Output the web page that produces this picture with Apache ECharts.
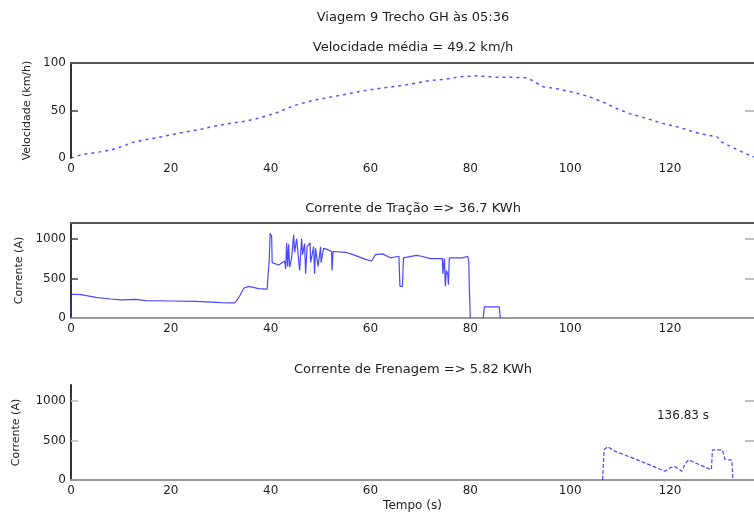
<!DOCTYPE html>
<html>
<head>
<meta charset="utf-8">
<script src="https://cdn.jsdelivr.net/npm/echarts@6/dist/echarts.min.js"></script>
<style>
html, body { margin: 0; padding: 0; background: #fff; }
#chart { width: 754px; height: 515px; }
</style>
</head>
<body>
<div id="chart"></div>
<script>
// dados
var tempoTotal = 136.83;
var xTicks = [0, 20, 40, 60, 80, 100, 120];
var ticksVel = [50];
var ticksCorrente = [500, 1000];

// velocidade (km/h)
var tempoVel = [0, 2.4, 4.1, 8.1, 11, 12, 15.7, 18.3, 22, 26.3, 28.2, 32.6, 35.2, 37.6, 40.9, 43.2, 45.5, 48.8, 54, 56.8, 59, 62, 64.4,
    67, 72, 75, 78, 81.3, 85.3, 87.9, 91.3, 92.6, 94.6, 97.8, 101.5, 103.8, 107.2, 109.1, 111.7, 115.1, 118.4, 121.7, 125, 127.6,
    129.4, 130.4, 133, 135, 136.83];
var velocidade = [0, 4, 5, 8.5, 13.5, 16, 20, 22.5, 26.5, 30.5, 33, 37, 39, 42, 47, 52, 56.5, 61, 66, 69, 71, 73.5, 75,
    77, 81.5, 83, 85.5, 86.5, 85, 85, 84.5, 81, 75, 72.5, 68, 64.5, 57.5, 52.5, 47, 42, 36.5, 32.5, 27, 24,
    22.5, 16.5, 10, 5, 1];

// corrente de tração (A)
var tempoTracao = [0, 0.1, 2, 5, 8, 10, 13, 15, 20, 25, 30, 32.8, 33.3, 33.9, 34.6, 35.6, 37.6, 39.3, 39.5, 39.7, 39.9, 40.2, 40.3,
    40.6, 41.6, 42.8, 43, 43.2, 43.4, 43.6, 43.8, 44.2, 44.6, 44.8, 45.2, 45.6, 45.8, 46.2, 46.4, 46.8, 47, 47.3, 47.9, 48,
    48.6, 48.8, 49, 49.4, 49.5, 50, 50.1, 50.6, 51.6, 52.2, 52.3, 52.5, 55, 56.5, 59, 60.2, 61, 62.4, 64, 65.7, 65.9, 66.4,
    66.6, 69.2, 70.2, 72, 74.4, 74.5, 74.8, 75, 75.2, 75.5, 75.6, 75.8, 78.4, 79.5, 79.7, 79.8, 80, 81, 82.6, 82.8, 85.8, 86];
var correnteTracao = [0, 300, 295, 260, 240, 230, 235, 220, 215, 210, 195, 190, 230, 290, 375, 400, 370, 365, 560, 710, 1070, 1030, 700,
    690, 670, 720, 620, 950, 650, 930, 640, 760, 1050, 830, 1000, 980, 600, 1000, 800, 940, 560, 900, 950, 700,
    900, 560, 880, 900, 650, 900, 700, 880, 860, 840, 600, 840, 830, 800, 740, 720, 800, 810, 760, 780, 400, 400,
    760, 790, 780, 750, 750, 560, 750, 400, 600, 550, 420, 760, 760, 780, 700, 380, 0, '-', 0, 140, 140, 0];

// corrente de frenagem (A)
var tempoFrenagem = [106.5, 106.8, 107.5, 109.1, 111.8, 114.4, 117.1, 119, 120.2, 121, 122.4, 123, 123.7, 126, 128.3, 128.5,
    130.5, 131, 132.4, 132.6];
var correnteFrenagem = [0, 380, 420, 360, 295, 230, 160, 110, 160, 170, 110, 200, 255, 190, 130, 380,
    380, 260, 250, 0];

var fonte = 'DejaVu Sans';
var corTexto = '#1e1e1e';
var azul = '#2828ff';

function pares(xs, ys) {
    return xs.map(function (x, i) { return [x, ys[i]]; });
}

var myChart = echarts.init(document.getElementById('chart'));

var grades = [
    { left: 71, width: 685, top: 63, height: 95 },
    { left: 71, width: 685, top: 223, height: 95 },
    { left: 71, width: 685, top: 385, height: 95 }
];

function eixoX(g, linhaBase, nome) {
    return {
        type: 'value', gridIndex: g, position: 'bottom',
        min: 0, max: tempoTotal, interval: 20,
        axisLine: { show: linhaBase, onZero: false, lineStyle: { color: '#9a9a9a', width: 2 } },
        axisTick: { show: false },
        splitLine: { show: false },
        axisLabel: {
            margin: 5, fontFamily: fonte, fontSize: 12, color: corTexto, showMaxLabel: false,
            formatter: function (v) { return xTicks.indexOf(v) >= 0 ? String(v) : ''; }
        },
        name: nome || '', nameLocation: 'middle', nameGap: 20,
        nameTextStyle: { fontFamily: fonte, fontSize: 12, color: corTexto }
    };
}

function eixoTopo(g, mostra) {
    return {
        type: 'value', gridIndex: g, position: 'top',
        min: 0, max: tempoTotal,
        axisLine: { show: mostra, onZero: false, lineStyle: { color: '#555', width: 2 } },
        axisTick: { show: false }, axisLabel: { show: false }, splitLine: { show: false }
    };
}

function eixoY(g, max, intervalo, ticks, nome, gap, corTick) {
    return {
        type: 'value', gridIndex: g, position: 'left',
        min: 0, max: max, interval: intervalo,
        axisLine: { show: true, onZero: false, lineStyle: { color: '#333', width: 2 } },
        axisTick: { show: true, inside: true, length: 7, customValues: ticks, lineStyle: { color: corTick, width: 1.5 } },
        splitLine: { show: false },
        axisLabel: {
            margin: 5, fontFamily: fonte, fontSize: 12, color: corTexto, showMaxLabel: max % intervalo === 0,
            formatter: function (v) { return String(v); }
        },
        name: nome, nameLocation: 'middle', nameGap: gap,
        nameTextStyle: { fontFamily: fonte, fontSize: 11, color: corTexto }
    };
}

function eixoDireita(g, max, intervalo, ticks) {
    return {
        type: 'value', gridIndex: g, position: 'right',
        min: 0, max: max, interval: intervalo,
        axisLine: { show: false, onZero: false },
        axisTick: { show: true, inside: true, length: 9, customValues: ticks, lineStyle: { color: '#aaa', width: 1.5 } },
        axisLabel: { show: false }, splitLine: { show: false }
    };
}

function titulo(texto, x, y, tamanho) {
    return {
        type: 'text', x: x, y: y,
        style: { text: texto, font: tamanho + 'px "DejaVu Sans"', fill: corTexto, textAlign: 'center', textVerticalAlign: 'middle' }
    };
}

var option = {
    animation: false,
    backgroundColor: '#fff',
    grid: grades,
    xAxis: [
        eixoX(0, false), eixoTopo(0, true),
        eixoX(1, true), eixoTopo(1, true),
        eixoX(2, true, 'Tempo (s)'), eixoTopo(2, false)
    ],
    yAxis: [
        eixoY(0, 100, 50, ticksVel, 'Velocidade (km/h)', 37, '#444'), eixoDireita(0, 100, 50, ticksVel),
        eixoY(1, 1200, 500, ticksCorrente, 'Corrente (A)', 46, '#444'), eixoDireita(1, 1200, 500, ticksCorrente),
        eixoY(2, 1200, 500, ticksCorrente, 'Corrente (A)', 49, '#bbb'), eixoDireita(2, 1200, 500, ticksCorrente)
    ],
    graphic: [
        titulo('Viagem 9 Trecho GH às 05:36', 413, 18, 13),
        titulo('Velocidade média = 49.2 km/h', 413, 48, 13),
        titulo('Corrente de Tração => 36.7 KWh', 413, 209, 13),
        titulo('Corrente de Frenagem => 5.82 KWh', 413, 370, 13),
        titulo(tempoTotal + ' s', 683, 416, 12)
    ],
    series: [
        {
            type: 'line', xAxisIndex: 0, yAxisIndex: 0, symbol: 'none',
            data: pares(tempoVel, velocidade),
            lineStyle: { color: azul, width: 1.5, type: [3, 4], opacity: 0.8 }
        },
        {
            type: 'line', xAxisIndex: 2, yAxisIndex: 2, symbol: 'none', connectNulls: false,
            data: pares(tempoTracao, correnteTracao),
            lineStyle: { color: azul, width: 1.2, opacity: 0.85 }
        },
        {
            type: 'line', xAxisIndex: 4, yAxisIndex: 4, symbol: 'none',
            data: pares(tempoFrenagem, correnteFrenagem),
            lineStyle: { color: azul, width: 1.2, type: [4, 2], opacity: 0.85 }
        }
    ]
};

myChart.setOption(option);
</script>
</body>
</html>
